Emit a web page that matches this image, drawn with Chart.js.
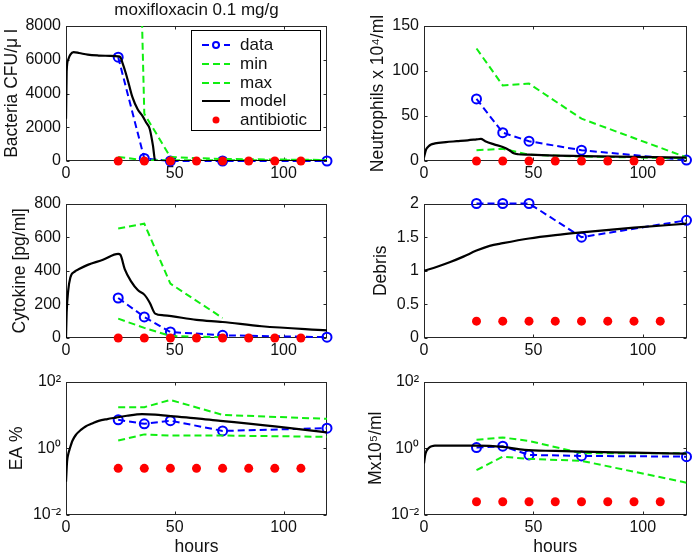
<!DOCTYPE html>
<html><head><meta charset="utf-8">
<script src="https://cdn.jsdelivr.net/npm/chart.js@4.4.0/dist/chart.umd.min.js"></script>
<style>
html,body{margin:0;padding:0;background:#fff;}
#wrap{position:relative;width:693px;height:556px;overflow:hidden;background:#fff;}
canvas{position:absolute;}
</style></head><body><div id="wrap">
<canvas id="c1" width="346" height="182" style="left:0;top:0"></canvas>
<canvas id="c2" width="347" height="182" style="left:346px;top:0"></canvas>
<canvas id="c3" width="346" height="178" style="left:0;top:182px"></canvas>
<canvas id="c4" width="347" height="178" style="left:346px;top:182px"></canvas>
<canvas id="c5" width="346" height="196" style="left:0;top:360px"></canvas>
<canvas id="c6" width="347" height="196" style="left:346px;top:360px"></canvas>
</div>
<script>
// ---------- shared ----------
const hoursTicks = [0, 50, 100];
const sampleTimes = [24, 36, 48, 72, 120];
const doseTimes = [24, 36, 48, 60, 72, 84, 96, 108];

// ---------- Bacteria ----------
const bactTicks = [0, 2000, 4000, 6000, 8000];
const bactData = [6150, 150, 0, 0, 0];
const bactMin = [240, 50, 40, 40, 40];
const bactMax = [65000, 2800, 230, 120, 60];
const bactModelT = [0, 0.3, 1, 2, 3.5, 6, 10, 15, 20, 24, 25, 26, 27.5, 29, 30.5, 33, 35, 37, 38.5, 40, 41, 50, 120];
const bactModel = [2500, 5300, 6000, 6300, 6450, 6400, 6300, 6250, 6230, 6200, 6150, 5800, 5200, 4500, 3800, 3050, 2700, 2250, 1900, 900, 0, 0, 0];
const bactDose = [0, 0, 0, 0, 0, 0, 0, 0];

// ---------- Neutrophils ----------
const neutTicks = [0, 50, 100, 150];
const neutData = [69, 31.5, 22, 12, 1];
const neutMin = [12, 13.5, 7, 5, 3];
const neutMax = [125, 84, 86, 47, 4];
const neutModelT = [0, 0.5, 1, 2, 3, 5, 10, 15, 20, 24, 26, 28, 32, 36, 39, 41, 43, 48, 60, 72, 96, 120];
const neutModel = [4, 9, 13, 16, 18, 19.5, 21, 22, 23, 24, 24.5, 22, 18.5, 15.5, 12, 8.5, 7.5, 7, 6, 5.5, 4.5, 3.7];
const neutDose = [0, 0, 0, 0, 0, 0, 0, 0];

// ---------- Cytokine ----------
const cytoTicks = [0, 200, 400, 600, 800];
const cytoData = [238, 125, 36, 16, 5];
const cytoBandT = [24, 36, 48, 72];
const cytoMin = [115, 60, 12, 5];
const cytoMax = [651, 680, 323, 119];
const cytoModelT = [0, 0.3, 1, 2, 4, 6, 10, 17, 24, 25, 27, 30, 33, 36, 38.5, 41, 45, 60, 72, 90, 120];
const cytoModel = [0, 150, 280, 360, 395, 410, 435, 465, 500, 495, 410, 335, 285, 258, 210, 145, 135, 108, 95, 70, 45];
const cytoDose = [0, 0, 0, 0, 0, 0, 0, 0];

// ---------- Debris ----------
const debrisTicks = [0, 0.5, 1, 1.5, 2];
const debrisData = [2, 2, 2, 1.5, 1.75];
const debrisModelT = [0, 6, 12, 18, 24, 30, 36, 48, 60, 72, 96, 120];
const debrisModel = [1, 1.06, 1.13, 1.21, 1.3, 1.37, 1.41, 1.48, 1.53, 1.57, 1.64, 1.7];
const debrisDose = [0.25, 0.25, 0.25, 0.25, 0.25, 0.25, 0.25, 0.25];

// ---------- EA % ----------
const logTicks = [0.01, 1, 100];
const logTickLabels = ['10\u207B\u00B2', '10\u2070', '10\u00B2'];
const eaData = [7.1, 5.4, 6.7, 3.3, 4.0];
const eaMin = [1.7, 2.6, 2.4, 2.4, 2.2];
const eaMax = [17, 17, 28, 10, 7.6];
const eaModelT = [0, 0.5, 1, 1.8, 3, 4.5, 7, 9, 12, 15, 19, 23, 28, 35, 41, 47, 60, 71, 84, 96, 108, 120];
const eaModel = [0.1, 0.4, 0.65, 1.0, 1.7, 2.5, 3.6, 4.5, 5.5, 6.6, 7.5, 8.3, 9.4, 10.5, 10.2, 9.3, 7.9, 6.6, 5.5, 4.5, 3.7, 3.0];
const eaDose = [0.25, 0.25, 0.25, 0.25, 0.25, 0.25, 0.25, 0.25];

// ---------- Mx ----------
const mxData = [1.05, 1.15, 0.63, 0.59, 0.56];
const mxMin = [0.22, 0.56, 0.48, 0.42, 0.093];
const mxMax = [1.8, 2.1, 1.65, 0.71, 0.71];
const mxModelT = [0, 0.5, 1, 1.7, 2.5, 3.5, 5, 10, 24, 36, 46, 60, 72, 96, 120];
const mxModel = [0.35, 0.6, 0.79, 0.95, 1.07, 1.15, 1.2, 1.2, 1.2, 1.1, 0.89, 0.83, 0.79, 0.74, 0.69];
const mxDose = [0.025, 0.025, 0.025, 0.025, 0.025, 0.025, 0.025, 0.025];

// ---------- styling ----------
const FONT = '"Liberation Sans", Arial, Helvetica, sans-serif';
Chart.defaults.font.family = FONT;
Chart.defaults.color = '#111';
const BLUE = '#0000ff', GREEN = '#10ee10', RED = '#ff0000', BLACK = '#000000';
const DASH = [7, 4];

function pts(xs, ys) { return xs.map((x, i) => ({x: x, y: ys[i]})); }

function makeDatasets(p) {
  const ds = [];
  ds.push({label: 'data', data: pts(sampleTimes, p.data), showLine: true, borderColor: BLUE, borderWidth: 2,
    borderDash: DASH, pointRadius: 4.5, pointBorderWidth: 2, pointBorderColor: BLUE,
    pointBackgroundColor: 'rgba(0,0,0,0)', clip: false, order: 5});
  if (p.min) ds.push({label: 'min', data: pts(p.bandT || sampleTimes, p.min), showLine: true, borderColor: GREEN,
    borderWidth: 2, borderDash: DASH, pointRadius: 0, order: 4});
  if (p.max) ds.push({label: 'max', data: pts(p.bandT || sampleTimes, p.max), showLine: true, borderColor: GREEN,
    borderWidth: 2, borderDash: DASH, pointRadius: 0, order: 3});
  ds.push({label: 'model', data: pts(p.modelT, p.model), showLine: true, borderColor: BLACK, borderWidth: 2.2,
    pointRadius: 0, cubicInterpolationMode: 'monotone', order: 2});
  ds.push({label: 'antibiotic', data: pts(doseTimes, p.dose), showLine: false, pointRadius: 4.5,
    pointBackgroundColor: RED, pointBorderColor: RED, pointBorderWidth: 0, clip: false, order: 1});
  return ds;
}

const boxPlugin = {
  id: 'matlabBox',
  beforeDatasetsDraw(chart) {
    const {ctx, chartArea: a, scales} = chart;
    ctx.save();
    ctx.strokeStyle = '#262626';
    ctx.lineWidth = 1;
    const L = Math.round(a.left) + 0.5, R = Math.round(a.right) - 0.5;
    const T = Math.round(a.top) + 0.5, B = Math.round(a.bottom) - 0.5;
    ctx.strokeRect(L, T, R - L, B - T);
    const tl = 3;
    ctx.beginPath();
    scales.x.ticks.forEach(t => {
      const px = Math.round(scales.x.getPixelForValue(t.value)) + 0.5;
      ctx.moveTo(px, B); ctx.lineTo(px, B - tl);
      ctx.moveTo(px, T); ctx.lineTo(px, T + tl);
    });
    scales.y.ticks.forEach(t => {
      const py = Math.round(scales.y.getPixelForValue(t.value)) + 0.5;
      ctx.moveTo(L, py); ctx.lineTo(L + tl, py);
      ctx.moveTo(R, py); ctx.lineTo(R - tl, py);
    });
    ctx.stroke();
    ctx.restore();
  }
};

const legendPlugin = {
  id: 'matlabLegend',
  afterDraw(chart, args, opts) {
    if (!opts || !opts.show) return;
    const ctx = chart.ctx;
    const x0 = 191.5, y0 = 30.5, w = 129, h = 100;
    ctx.save();
    ctx.fillStyle = '#fff';
    ctx.fillRect(x0, y0, w, h);
    ctx.strokeStyle = '#000';
    ctx.lineWidth = 1;
    ctx.strokeRect(x0, y0, w, h);
    const rowsY = [45, 64, 83, 101, 120];
    const sx0 = 202, sx1 = 230, tx = 240;
    ctx.font = '17px ' + FONT;
    ctx.textBaseline = 'middle';
    ctx.textAlign = 'left';
    chart.data.datasets.forEach((d, i) => {
      const y = rowsY[i];
      ctx.save();
      if (d.showLine) {
        ctx.strokeStyle = d.borderColor;
        ctx.lineWidth = 2;
        ctx.setLineDash(d.borderDash || []);
        ctx.beginPath(); ctx.moveTo(sx0, y); ctx.lineTo(sx1, y); ctx.stroke();
        ctx.setLineDash([]);
      }
      if (d.label === 'data') {
        ctx.fillStyle = '#fff';
        ctx.strokeStyle = BLUE; ctx.lineWidth = 2;
        ctx.beginPath(); ctx.arc((sx0 + sx1) / 2, y, 3, 0, Math.PI * 2); ctx.fill(); ctx.stroke();
      }
      if (d.label === 'antibiotic') {
        ctx.fillStyle = RED;
        ctx.beginPath(); ctx.arc((sx0 + sx1) / 2, y, 3.5, 0, Math.PI * 2); ctx.fill();
      }
      ctx.fillStyle = '#111';
      ctx.fillText(d.label, tx, y);
      ctx.restore();
    });
    ctx.restore();
  }
};

function makePanel(id, p) {
  const yScale = {
    type: p.log ? 'logarithmic' : 'linear',
    min: p.ymin, max: p.ymax,
    grid: {display: false, drawTicks: false}, border: {display: false},
    ticks: {padding: 5, font: {size: 16}, color: '#111',
      callback: p.log ? (v) => logTickLabels[logTicks.indexOf(v)] : (v) => String(v)},
    afterBuildTicks: (s) => { s.ticks = p.yticks.map(v => ({value: v})); },
    afterFit: (s) => { s.width = p.yWidth; },
    title: {display: true, text: p.ylabel, color: '#111', font: {size: 17.5, lineHeight: 1}, padding: {top: p.ytitlePad, bottom: 0}}
  };
  const xScale = {
    type: 'linear', min: 0, max: 120,
    grid: {display: false, drawTicks: false}, border: {display: false},
    ticks: {padding: 3, font: {size: 16}, color: '#111', maxRotation: 0, callback: (v) => String(v)},
    afterBuildTicks: (s) => { s.ticks = hoursTicks.map(v => ({value: v})); },
    afterFit: (s) => { s.height = p.xHeight; },
    title: {display: !!p.xlabel, text: p.xlabel || '', color: '#111', font: {size: 17.5, lineHeight: 1}, padding: {top: 0, bottom: 0}}
  };
  return new Chart(document.getElementById(id), {
    type: 'scatter',
    data: {datasets: makeDatasets(p)},
    options: {
      responsive: false, animation: false, events: [],
      layout: {padding: {left: 0, right: p.padRight, top: p.padTop, bottom: 0}},
      scales: {x: xScale, y: yScale},
      plugins: {
        legend: {display: false}, tooltip: {enabled: false},
        title: p.title ? {display: true, fullSize: false, align: 'center', text: p.title, color: '#111', font: {size: 17, weight: 'normal', lineHeight: 1.2}, padding: {top: 0, bottom: 5.6}} : {display: false},
        matlabLegend: {show: !!p.legend}
      }
    },
    plugins: [boxPlugin, legendPlugin]
  });
}

makePanel('c1', {data: bactData, min: bactMin, max: bactMax, modelT: bactModelT, model: bactModel, dose: bactDose,
  ymin: 0, ymax: 8000, yticks: bactTicks, ylabel: 'Bacteria CFU/\u03BC l', ytitlePad: 3,
  yWidth: 66, padRight: 19, padTop: 0, xHeight: 21, title: 'moxifloxacin 0.1 mg/g', legend: true});
makePanel('c2', {data: neutData, min: neutMin, max: neutMax, modelT: neutModelT, model: neutModel, dose: neutDose,
  ymin: 0, ymax: 150, yticks: neutTicks, ylabel: 'Neutrophils x 10\u2074/ml', ytitlePad: 23.5,
  yWidth: 78, padRight: 6, padTop: 26, xHeight: 21});
makePanel('c3', {data: cytoData, min: cytoMin, max: cytoMax, bandT: cytoBandT, modelT: cytoModelT, model: cytoModel, dose: cytoDose,
  ymin: 0, ymax: 800, yticks: cytoTicks, ylabel: 'Cytokine [pg/ml]', ytitlePad: 11,
  yWidth: 66, padRight: 19, padTop: 21.5, xHeight: 22});
makePanel('c4', {data: debrisData, modelT: debrisModelT, model: debrisModel, dose: debrisDose,
  ymin: 0, ymax: 2, yticks: debrisTicks, ylabel: 'Debris', ytitlePad: 26.5,
  yWidth: 78, padRight: 6, padTop: 21.5, xHeight: 22});
makePanel('c5', {data: eaData, min: eaMin, max: eaMax, modelT: eaModelT, model: eaModel, dose: eaDose, log: true,
  ymin: 0.01, ymax: 100, yticks: logTicks, ylabel: 'EA %', ytitlePad: 8.2,
  yWidth: 66, padRight: 19, padTop: 21.5, xHeight: 41, xlabel: 'hours'});
makePanel('c6', {data: mxData, min: mxMin, max: mxMax, modelT: mxModelT, model: mxModel, dose: mxDose, log: true,
  ymin: 0.01, ymax: 100, yticks: logTicks, ylabel: 'Mx10\u2075/ml', ytitlePad: 21,
  yWidth: 78, padRight: 6, padTop: 21.5, xHeight: 41, xlabel: 'hours'});
</script></body></html>
